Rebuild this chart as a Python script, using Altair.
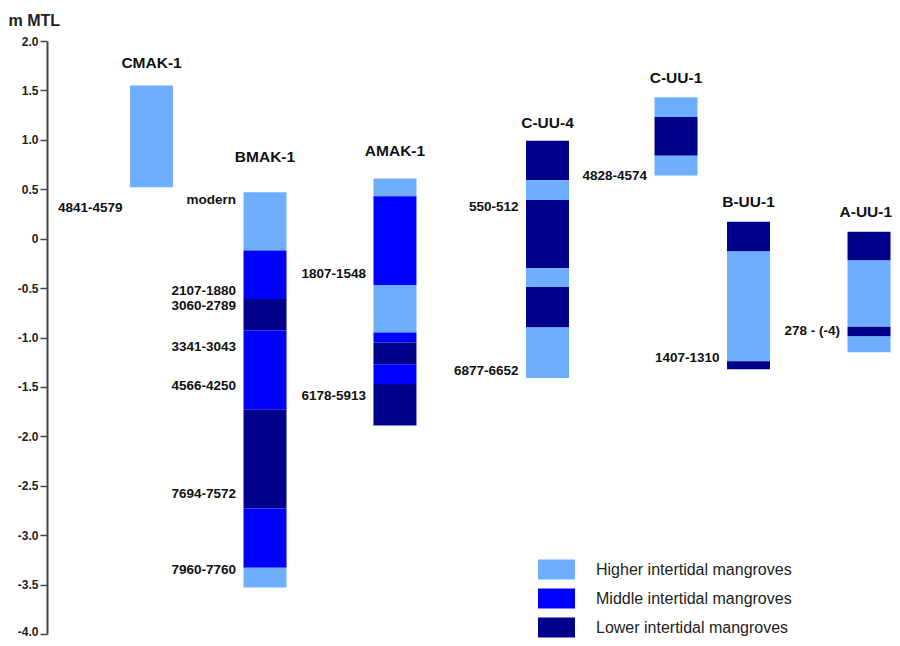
import altair as alt
import pandas as pd

# ---------------- data ----------------
cores = ["CMAK-1", "BMAK-1", "AMAK-1", "C-UU-4", "C-UU-1", "B-UU-1", "A-UU-1"]

zones = ["Higher intertidal mangroves", "Middle intertidal mangroves", "Lower intertidal mangroves"]
zone_colors = ["#6EAEFF", "#0000FF", "#00008A"]

# segments (m MTL): core, top, bottom, zone code (H/M/L)
seg_core = (["CMAK-1"]
            + ["BMAK-1"] * 7
            + ["AMAK-1"] * 7
            + ["C-UU-4"] * 6
            + ["C-UU-1"] * 3
            + ["B-UU-1"] * 3
            + ["A-UU-1"] * 4)
seg_top = [1.55,
           0.47, -0.12, -0.61, -0.93, -1.73, -2.73, -3.33,
           0.61, 0.43, -0.47, -0.95, -1.05, -1.27, -1.47,
           0.99, 0.59, 0.39, -0.30, -0.49, -0.90,
           1.43, 1.23, 0.84,
           0.17, -0.13, -1.24,
           0.07, -0.22, -0.89, -0.99]
seg_bottom = [0.52,
              -0.12, -0.61, -0.93, -1.73, -2.73, -3.33, -3.53,
              0.43, -0.47, -0.95, -1.05, -1.27, -1.47, -1.89,
              0.59, 0.39, -0.30, -0.49, -0.90, -1.41,
              1.23, 0.84, 0.64,
              -0.13, -1.24, -1.32,
              -0.22, -0.89, -0.99, -1.15]
seg_zone = ["H",
            "H", "M", "L", "M", "L", "M", "H",
            "H", "M", "H", "M", "L", "M", "L",
            "L", "H", "L", "H", "L", "H",
            "H", "L", "H",
            "L", "H", "L",
            "L", "H", "L", "H"]

# radiocarbon age labels (cal BP) and their elevations (m MTL)
age_core = ["CMAK-1",
            "BMAK-1", "BMAK-1", "BMAK-1", "BMAK-1", "BMAK-1", "BMAK-1", "BMAK-1",
            "AMAK-1", "AMAK-1",
            "C-UU-4", "C-UU-4",
            "C-UU-1",
            "B-UU-1",
            "A-UU-1"]
age_text = ["4841-4579",
            "modern", "2107-1880", "3060-2789", "3341-3043", "4566-4250", "7694-7572", "7960-7760",
            "1807-1548", "6178-5913",
            "550-512", "6877-6652",
            "4828-4574",
            "1407-1310",
            "278 - (-4)"]
age_elev = [0.31,
            0.39, -0.53, -0.68, -1.10, -1.49, -2.58, -3.35,
            -0.36, -1.59,
            0.32, -1.34,
            0.63,
            -1.21,
            -0.93]

y_ticks = [2.0, 1.5, 1.0, 0.5, 0.0, -0.5, -1.0, -1.5, -2.0, -2.5, -3.0, -3.5, -4.0]

# ---------------- layout (not data) ----------------
core_pos = {"CMAK-1": 12.37, "BMAK-1": 25.8, "AMAK-1": 41.18, "C-UU-4": 59.23,
            "C-UU-1": 74.44, "B-UU-1": 83.02, "A-UU-1": 97.28}
title_pos = dict(core_pos, **{"A-UU-1": 96.9})
title_elev = {"CMAK-1": 1.78, "BMAK-1": 0.83, "AMAK-1": 0.89, "C-UU-4": 1.17,
              "C-UU-1": 1.63, "B-UU-1": 0.37, "A-UU-1": 0.27}

zone_name = {"H": zones[0], "M": zones[1], "L": zones[2]}

seg_df = pd.DataFrame({
    "core": seg_core, "top": seg_top, "bottom": seg_bottom,
    "zone": [zone_name[z] for z in seg_zone],
})
seg_df["pos"] = seg_df["core"].map(core_pos)

age_df = pd.DataFrame({"core": age_core, "label": age_text, "elev": age_elev})
age_df["pos"] = age_df["core"].map(core_pos)

title_df = pd.DataFrame({"core": cores})
title_df["pos"] = title_df["core"].map(title_pos)
title_df["elev"] = title_df["core"].map(title_elev)

FONT = "Liberation Sans"

xscale = alt.Scale(domain=[0, 100], nice=False, zero=False, padding=0)
yscale = alt.Scale(domain=[-4, 2], nice=False, zero=False, padding=0)

yaxis = alt.Axis(
    values=y_ticks,
    labelExpr="datum.value == 0 ? '0' : (datum.value < 0 ? '-' + format(-datum.value, '.1f') : format(datum.value, '.1f'))",
    grid=False, domainColor="#444444", domainWidth=2,
    tickColor="#444444", tickWidth=1.5, tickSize=7,
    labelFont=FONT, labelFontWeight="bold", labelFontSize=12, labelColor="#222222",
    labelPadding=2,
    labelOffset={"condition": {"test": "datum.value == -4", "value": -2.5}, "value": 0},
    title="m MTL", titleFont=FONT, titleFontWeight="bold", titleFontSize=16,
    titleColor="#222222", titleAngle=0, titleAlign="left", titleBaseline="middle",
    titleX=-39, titleY=-21,
)

bars = alt.Chart(seg_df).mark_bar(size=43, stroke=None).encode(
    x=alt.X("pos:Q", scale=xscale, axis=None),
    y=alt.Y("top:Q", scale=yscale, axis=yaxis),
    y2="bottom:Q",
    color=alt.Color(
        "zone:N",
        scale=alt.Scale(domain=zones, range=zone_colors),
        legend=alt.Legend(
            title=None, orient="none", legendX=491, legendY=510,
            symbolType="M-1,-0.54L1,-0.54L1,0.54L-1,0.54Z",
            symbolSize=1369, symbolStrokeWidth=0, symbolOpacity=1,
            labelFont=FONT, labelFontSize=16, labelColor="#222222",
            labelOffset=21, rowPadding=-8, labelLimit=400,
        ),
    ),
)

ages = alt.Chart(age_df).mark_text(
    align="right", baseline="middle", dx=-29,
    font=FONT, fontWeight="bold", fontSize=13.5, color="#111111",
).encode(
    x=alt.X("pos:Q", scale=xscale, axis=None),
    y=alt.Y("elev:Q", scale=yscale, axis=yaxis),
    text="label:N",
)

titles = alt.Chart(title_df).mark_text(
    align="center", baseline="middle",
    font=FONT, fontWeight="bold", fontSize=15.5, color="#111111",
).encode(
    x=alt.X("pos:Q", scale=xscale, axis=None),
    y=alt.Y("elev:Q", scale=yscale, axis=yaxis),
    text="core:N",
)

chart = alt.layer(bars, ages, titles).properties(
    width=845, height=593,
    background="white",
    autosize=alt.AutoSizeParams(type="none"),
    padding={"left": 39, "top": 33, "right": 0, "bottom": 4},
).configure_view(stroke=None)

chart.save("out.html", embed_options={"renderer": "svg", "actions": False})
